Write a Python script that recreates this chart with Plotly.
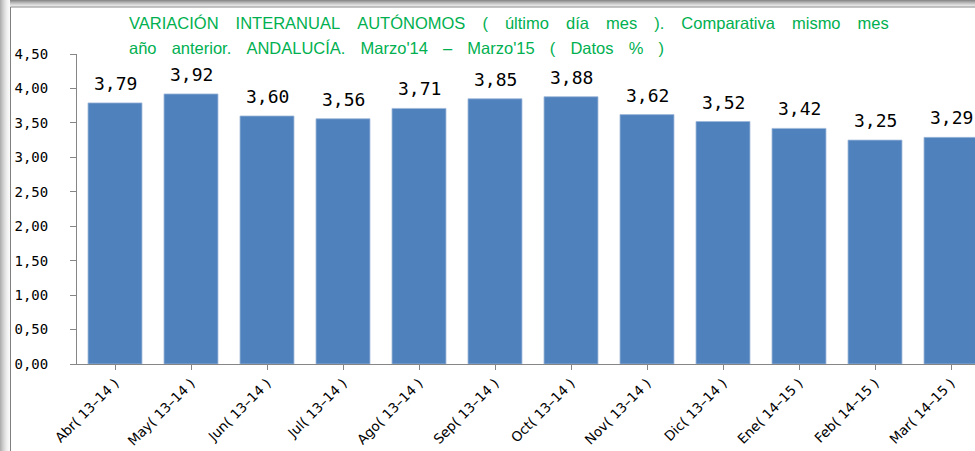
import plotly.graph_objects as go

categories = ["Abr( 13–14 )", "May( 13–14 )", "Jun( 13–14 )", "Jul( 13–14 )",
              "Ago( 13–14 )", "Sep( 13–14 )", "Oct( 13–14 )", "Nov( 13–14 )",
              "Dic( 13–14 )", "Ene( 14–15 )", "Feb( 14–15 )", "Mar( 14–15 )"]
values = [3.79, 3.92, 3.60, 3.56, 3.71, 3.85, 3.88, 3.62, 3.52, 3.42, 3.25, 3.29]
y_ticks = [0, 0.5, 1, 1.5, 2, 2.5, 3, 3.5, 4, 4.5]
y_tick_labels = ["0,00", "0,50", "1,00", "1,50", "2,00", "2,50", "3,00", "3,50", "4,00", "4,50"]
title_words_1 = ["VARIACIÓN", "INTERANUAL", "AUTÓNOMOS", "(", "último", "día", "mes", ").", "Comparativa", "mismo", "mes"]
title_words_2 = ["año", "anterior.", "ANDALUCÍA.", "Marzo'14", "–", "Marzo'15", "(", "Datos", "%", ")"]

W, H = 975, 451
ML, MR, MT, MB = 77, 0, 54, 87
PW, PH = W - ML - MR, H - MT - MB

def px_x(p):
    return (p - ML) / PW

def px_y(p):
    return (H - MB - p) / PH

fig = go.Figure()
fig.add_trace(go.Bar(
    x=list(range(len(categories))), y=values,
    marker=dict(color="#4F81BD", line=dict(color="#9DB7D9", width=0.8)),
    width=0.71, hoverinfo="skip",
))

annotations = []
for i, v in enumerate(values):
    annotations.append(dict(
        x=i, y=v, xref="x", yref="y", text=f"{v:.2f}".replace(".", ","),
        showarrow=False, yanchor="bottom", yshift=7,
        font=dict(family="DejaVu Sans Mono", size=18, color="#000000"),
    ))

shapes = []
greys = ["#8c8c8c", "#a0a0a0", "#b4b4b4", "#c6c6c6", "#d6d6d6", "#e4e4e4", "#efefef"]
for i, g in enumerate(greys):
    shapes.append(dict(type="rect", xref="paper", yref="paper", layer="below",
                       x0=px_x(0), x1=px_x(W), y0=px_y(i), y1=px_y(i + 1),
                       fillcolor=g, line=dict(width=0)))
lgreys = ["#b0b0b0", "#bcbcbc", "#c8c8c8", "#d2d2d2", "#dcdcdc", "#e4e4e4", "#ececec", "#f2f2f2", "#f6f6f6", "#f9f9f9"]
for i, g in enumerate(lgreys):
    shapes.append(dict(type="rect", xref="paper", yref="paper", layer="below",
                       x0=px_x(i), x1=px_x(i + 1), y0=px_y(H), y1=px_y(0),
                       fillcolor=g, line=dict(width=0)))
shapes.append(dict(type="line", xref="paper", yref="paper",
                   x0=px_x(10.5), x1=px_x(10.5), y0=px_y(H), y1=px_y(7),
                   line=dict(color="#7f7f7f", width=1)))
shapes.append(dict(type="line", xref="paper", yref="paper",
                   x0=px_x(10.5), x1=px_x(W), y0=px_y(7), y1=px_y(7),
                   line=dict(color="#8a8a8a", width=1)))

gaps = ["\u00a0" * 3 + "\u2009", "\u00a0" * 3 + "\u200a"]
for i, words in enumerate([title_words_1, title_words_2]):
    annotations.append(dict(
        text=gaps[i].join(words), xref="paper", yref="paper", x=px_x(127), y=px_y(23 + 25.5 * i),
        xanchor="left", yanchor="middle", showarrow=False,
        font=dict(family="Liberation Sans", size=16.5, color="#00B050"),
    ))

fig.update_layout(
    width=W, height=H,
    margin=dict(l=ML, r=MR, t=MT, b=MB, pad=0, autoexpand=False),
    paper_bgcolor="white", plot_bgcolor="white",
    showlegend=False,
    shapes=shapes,
    annotations=annotations,
    xaxis=dict(
        range=[-0.5, -0.5 + PW / 76.0], automargin=False,
        tickmode="array", tickvals=list(range(len(categories))), ticktext=categories,
        tickangle=-45, tickfont=dict(family="DejaVu Sans", size=13.5, color="#000000"),
        showline=True, linecolor="#868686", linewidth=1,
        ticks="outside", ticklen=5, tickcolor="#868686", tickson="boundaries",
        showgrid=False, zeroline=False,
    ),
    yaxis=dict(
        range=[0, 4.5], automargin=False,
        tickmode="array", tickvals=y_ticks, ticktext=y_tick_labels,
        tickfont=dict(family="DejaVu Sans Mono", size=14, color="#000000"),
        showline=True, linecolor="#868686", linewidth=1,
        ticks="outside", ticklen=6, tickcolor="#868686",
        ticklabelstandoff=19,
        showgrid=False, zeroline=False,
    ),
)

fig.write_html("out.html", config={"displayModeBar": False},
               post_script="document.body.style.margin='0';document.body.style.overflow='hidden';")
